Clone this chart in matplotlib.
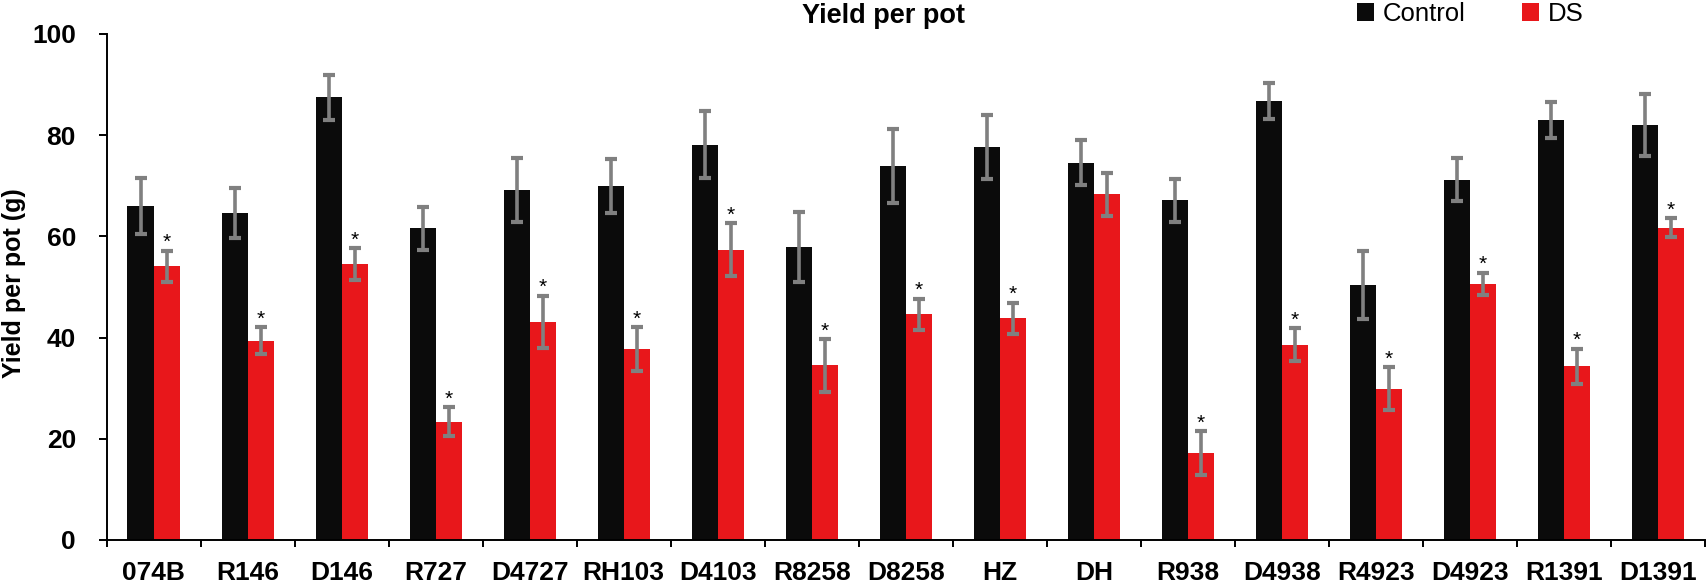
import numpy as np
import matplotlib
matplotlib.use("Agg")
import matplotlib.pyplot as plt
from matplotlib.patches import Patch

plt.rcParams['font.family'] = ['Liberation Sans', 'DejaVu Sans']

# ==========================
# Data
# ==========================
genotypes = ['074B', 'R146', 'D146', 'R727', 'D4727', 'RH103', 'D4103', 'R8258',
             'D8258', 'HZ', 'DH', 'R938', 'D4938', 'R4923', 'D4923', 'R1391', 'D1391']

control_mean = [66.0, 64.6, 87.5, 61.6, 69.2, 70.0, 78.1, 57.9, 73.9, 77.6,
                74.6, 67.1, 86.8, 50.4, 71.2, 83.0, 82.0]
control_err = [5.6, 5.0, 4.4, 4.2, 6.3, 5.3, 6.6, 6.9, 7.3, 6.3,
               4.4, 4.3, 3.6, 6.7, 4.3, 3.6, 6.1]

ds_mean = [54.1, 39.4, 54.5, 23.4, 43.1, 37.7, 57.4, 34.5, 44.6, 43.8,
           68.3, 17.2, 38.6, 29.9, 50.6, 34.3, 61.7]
ds_err = [3.1, 2.7, 3.2, 2.8, 5.2, 4.3, 5.2, 5.2, 3.1, 3.1,
          4.2, 4.3, 3.3, 4.2, 2.2, 3.5, 1.9]

# asterisk = significant difference from control
ds_signif = [True, True, True, True, True, True, True, True, True, True,
             False, True, True, True, True, True, True]

# ==========================
# Plot
# ==========================
black = '#0b0b0b'
red = '#e8171b'
grey = '#808080'

fig = plt.figure(figsize=(17.07, 5.82), dpi=100)
ax = fig.add_axes([0.0624, 0.0722, 0.9364, 0.8694])

x = np.arange(len(genotypes))
w = 0.277

err_kw = dict(ecolor=grey, elinewidth=2.6, capsize=4.3, capthick=3.0)
ax.bar(x - w / 2, control_mean, w, color=black, yerr=control_err,
       error_kw=err_kw, zorder=2)
ax.bar(x + w / 2, ds_mean, w, color=red, yerr=ds_err,
       error_kw=err_kw, zorder=2)

for i in range(len(genotypes)):
    if ds_signif[i]:
        ax.text(x[i] + w / 2, ds_mean[i] + ds_err[i] + 0.5, '*',
                ha='center', va='baseline', fontsize=15, color='black')

ax.set_xlim(-0.5, len(genotypes) - 0.5)
ax.set_ylim(0, 100)
ax.set_yticks([0, 20, 40, 60, 80, 100])

ax.set_xticks(x)
ax.set_xticklabels(genotypes)
ax.set_xticks(np.arange(-0.5, len(genotypes), 1), minor=True)
ax.tick_params(axis='x', which='major', length=0, pad=15)
ax.tick_params(axis='x', which='minor', length=5, width=1.4, direction='out')
ax.tick_params(axis='y', length=6, width=1.4, direction='out', pad=16)

for lab in ax.get_xticklabels() + ax.get_yticklabels():
    lab.set_fontsize(19)
    lab.set_fontweight('bold')

for side in ['top', 'right']:
    ax.spines[side].set_visible(False)
for side in ['left', 'bottom']:
    ax.spines[side].set_linewidth(1.4)

fig.text(883 / 1707, 1 - 23 / 582, 'Yield per pot', ha='center', va='baseline',
         fontsize=19.5, fontweight='bold')
fig.text(14 / 1707, 1 - 283 / 582, 'Yield per pot (g)', rotation=90,
         ha='center', va='center', fontsize=18, fontweight='bold')

handles = [Patch(facecolor=black, linewidth=0, label='Control'),
           Patch(facecolor=red, linewidth=0, label='DS')]
fig.legend(handles=handles, loc='upper left', ncol=2, frameon=False,
           bbox_to_anchor=(1357 / 1707, 1 - 2 / 582),
           bbox_transform=fig.transFigure, borderpad=0, borderaxespad=0,
           fontsize=18.5, handlelength=0.66, handleheight=0.66,
           handletextpad=0.35, columnspacing=2.2)

fig.savefig('out.png', dpi=100)
